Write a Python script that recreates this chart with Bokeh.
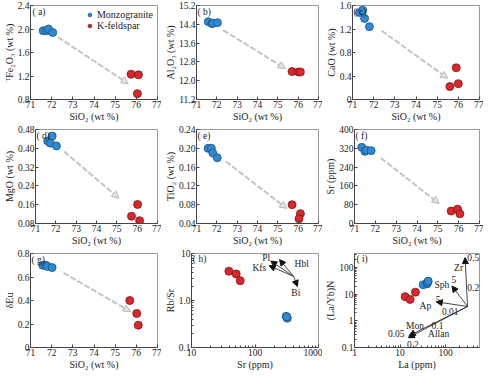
from bokeh.plotting import figure
from bokeh.layouts import column, row
from bokeh.models import (Arrow, NormalHead, Label, Legend, LegendItem,
                          ColumnDataSource, FixedTicker, CustomJSTickFormatter, Range1d)
from bokeh.embed import file_html
from bokeh.resources import INLINE

FONT = "Liberation Serif"
BLUE, BLUE_EDGE = "#2e8bd3", "#1d4f80"
RED, RED_EDGE = "#d9272c", "#7a1416"
GREY = "#c4c4c4"

# ---------------- data ----------------
sio2_ticks = [71, 72, 73, 74, 75, 76, 77]
sio2_labels = ["71", "72", "73", "74", "75", "76", "77"]

a_mz_x = [71.6, 71.75, 71.85, 72.05]
a_mz_y = [1.97, 1.97, 2.00, 1.94]
a_kf_x = [75.75, 76.1, 76.05]
a_kf_y = [1.23, 1.22, 0.90]
a_trend = [72.3, 1.86, 75.62, 1.07]
a_ticks = [0.8, 1.2, 1.6, 2.0, 2.4]
a_labels = ["0.8", "1.2", "1.6", "2.0", "2.4"]

b_mz_x = [71.58, 71.76, 71.82, 72.03]
b_mz_y = [14.51, 14.43, 14.45, 14.47]
b_kf_x = [75.7, 76.02, 76.11]
b_kf_y = [12.39, 12.37, 12.37]
b_trend = [72.31, 14.15, 75.37, 12.52]
b_ticks = [11.2, 12.0, 12.8, 13.6, 14.4, 15.2]
b_labels = ["11.2", "12.0", "12.8", "13.6", "14.4", "15.2"]

c_mz_x = [71.33, 71.48, 71.57, 71.80]
c_mz_y = [1.48, 1.52, 1.38, 1.24]
c_kf_x = [75.6, 75.9, 76.0]
c_kf_y = [0.22, 0.54, 0.27]
c_trend = [72.38, 1.17, 75.5, 0.36]
c_ticks = [0, 0.4, 0.8, 1.2, 1.6]
c_labels = ["0", "0.4", "0.8", "1.2", "1.6"]

d_mz_x = [71.6, 71.82, 71.73, 72.03]
d_mz_y = [0.431, 0.452, 0.422, 0.41]
d_kf_x = [75.72, 76.02, 76.12]
d_kf_y = [0.111, 0.161, 0.092]
d_trend = [72.41, 0.386, 75.1, 0.188]
d_ticks = [0.08, 0.16, 0.24, 0.32, 0.40, 0.48]
d_labels = ["0.08", "0.16", "0.24", "0.32", "0.40", "0.48"]

e_mz_x = [71.57, 71.73, 71.8, 72.02]
e_mz_y = [0.200, 0.200, 0.190, 0.180]
e_kf_x = [75.7, 76.11, 76.04]
e_kf_y = [0.080, 0.061, 0.050]
e_trend = [72.45, 0.172, 75.44, 0.072]
e_ticks = [0.04, 0.08, 0.12, 0.16, 0.20, 0.24]
e_labels = ["0.04", "0.08", "0.12", "0.16", "0.20", "0.24"]

f_mz_x = [71.35, 71.5, 71.58, 71.8]
f_mz_y = [324, 307, 312, 310]
f_kf_x = [75.64, 75.95, 76.06]
f_kf_y = [53, 61, 41]
f_trend = [72.26, 279, 75.06, 85]
f_ticks = [0, 80, 160, 240, 320, 400]
f_labels = ["0", "80", "160", "240", "320", "400"]

g_mz_x = [71.58, 71.73, 71.8, 72.02]
g_mz_y = [0.70, 0.70, 0.69, 0.68]
g_kf_x = [75.69, 76.02, 76.09]
g_kf_y = [0.40, 0.29, 0.19]
g_trend = [72.56, 0.636, 75.72, 0.306]
g_ticks = [0, 0.2, 0.4, 0.6, 0.8]
g_labels = ["0", "0.2", "0.4", "0.6", "0.8"]

h_mz_sr = [310, 318, 322, 315]
h_mz_rbsr = [0.46, 0.44, 0.42, 0.45]
h_kf_sr = [38.8, 50.5, 58.5]
h_kf_rbsr = [4.2, 3.67, 2.64]
h_x_ticks = [10, 100, 1000]
h_x_labels = ["10", "100", "1000"]
h_y_ticks = [0.1, 1, 10]
h_y_labels = ["0.1", "1.0", "10"]
h_vec_names = ["Pl", "Hbl", "Kfs", "Bi"]
h_vec_x0 = [406, 406, 406, 406]
h_vec_y0 = [3.26, 3.26, 3.26, 3.26]
h_vec_x1 = [177, 243, 167, 466]
h_vec_y1 = [6.9, 7.4, 5.5, 1.99]

i_mz_la = [32, 38.8, 40, 41.3]
i_mz_layb = [22.7, 24.5, 27.4, 31.2]
i_kf_la = [12.9, 16.6, 21.7]
i_kf_layb = [8.1, 6.4, 12.0]
i_x_ticks = [1, 10, 100, 1000]
i_x_labels = ["1", "10", "100", "1000"]
i_y_ticks = [0.1, 1, 10, 100]
i_y_labels = ["0.1", "1", "10", "100"]
i_vec_names = ["Zr", "Sph", "Ap", "Mon", "Allan"]
i_vec_x0 = [301, 301, 301, 301, 301]
i_vec_y0 = [3.47, 3.47, 3.47, 3.47, 3.47]
i_vec_x1 = [266, 137, 62, 15.8, 15.1]
i_vec_y1 = [239, 20.4, 5.2, 0.28, 0.233]


def log_minor(lo_exp, hi_exp):
    return [m * 10 ** e for e in range(lo_exp, hi_exp) for m in range(2, 10)]


def make(xr, yr, xlabel, ylabel, xticks, xlabels, yticks, ylabels,
         xlog=False, ylog=False, xminor=None, yminor=None):
    p = figure(width=161, height=124, x_range=Range1d(*xr), y_range=Range1d(*yr),
               x_axis_type="log" if xlog else "linear",
               y_axis_type="log" if ylog else "linear",
               output_backend="svg", toolbar_location=None,
               min_border_left=28, min_border_right=4,
               min_border_top=5, min_border_bottom=22)
    p.xgrid.visible = False
    p.ygrid.visible = False
    p.outline_line_color = "#9a9a9a"
    p.background_fill_color = "white"
    p.border_fill_color = "white"
    for ax, ticks, labels, minor, title in ((p.xaxis[0], xticks, xlabels, xminor, xlabel),
                                            (p.yaxis[0], yticks, ylabels, yminor, ylabel)):
        ax.ticker = FixedTicker(ticks=ticks, minor_ticks=minor or [])
        ax.formatter = CustomJSTickFormatter(
            args=dict(t=ticks, l=labels),
            code="const i = t.findIndex(v => Math.abs(v - tick) <= 1e-9 * Math.max(1, Math.abs(v)));"
                 "return i >= 0 ? l[i] : '';")
        ax.axis_label = title
        ax.axis_label_text_font = FONT
        ax.axis_label_text_font_size = "10px"
        ax.axis_label_text_font_style = "normal"
        ax.axis_label_text_color = "#222222"
        ax.major_label_text_font = FONT
        ax.major_label_text_font_size = "9.5px"
        ax.major_label_text_color = "#222222"
        ax.major_tick_in = 3
        ax.major_tick_out = 0
        ax.minor_tick_in = 2
        ax.minor_tick_out = 0
        ax.axis_line_color = "#444444"
        ax.major_tick_line_color = "#444444"
        ax.minor_tick_line_color = "#444444"
        ax.major_label_standoff = 1
        ax.axis_label_standoff = 0
    return p


def points(p, mx, my, kx, ky):
    r1 = p.scatter(mx, my, size=8, fill_color=BLUE, line_color=BLUE_EDGE, line_width=0.8)
    r2 = p.scatter(kx, ky, size=8, fill_color=RED, line_color=RED_EDGE, line_width=0.8)
    return r1, r2


def trend(p, t):
    p.add_layout(Arrow(x_start=t[0], y_start=t[1], x_end=t[2], y_end=t[3],
                       line_color=GREY, line_width=2, line_dash="6 2",
                       end=NormalHead(size=7, fill_color="#e4e4e4", line_color="#b5b5b5",
                                      line_width=1)))


def tag(p, x, y, text, align="left", baseline="top", size="9.5px"):
    p.add_layout(Label(x=x, y=y, text=text, text_font=FONT, text_font_size=size,
                       text_align=align, text_baseline=baseline, text_color="#222222"))


SIO2 = "SiO₂ (wt %)"

# (a)
pa = make((71, 77), (0.8, 2.4), SIO2, "ᵀFe₂O₃ (wt %)", sio2_ticks, sio2_labels, a_ticks, a_labels)
trend(pa, a_trend)
ra1, ra2 = points(pa, a_mz_x, a_mz_y, a_kf_x, a_kf_y)
tag(pa, 71.1, 2.37, "( a)")
leg = Legend(items=[LegendItem(label="Monzogranite", renderers=[ra1]),
                    LegendItem(label="K-feldspar", renderers=[ra2])],
             location="top_right", label_text_font=FONT, label_text_font_size="10px",
             label_text_color="#222222", glyph_width=9, glyph_height=9, label_height=9,
             label_standoff=3, spacing=0, padding=1, margin=3,
             border_line_alpha=0, background_fill_alpha=0)
pa.add_layout(leg)

# (b)
pb = make((71, 77), (11.2, 15.2), SIO2, "Al₂O₃ (wt %)", sio2_ticks, sio2_labels, b_ticks, b_labels)
trend(pb, b_trend)
points(pb, b_mz_x, b_mz_y, b_kf_x, b_kf_y)
tag(pb, 71.05, 15.15, "( b)")

# (c)
pc = make((71, 77), (0, 1.6), SIO2, "CaO (wt %)", sio2_ticks, sio2_labels, c_ticks, c_labels)
trend(pc, c_trend)
tag(pc, 71.05, 1.57, "( c)")
points(pc, c_mz_x, c_mz_y, c_kf_x, c_kf_y)

# (d)
pd_ = make((71, 77), (0.08, 0.48), SIO2, "MgO (wt %)", sio2_ticks, sio2_labels, d_ticks, d_labels)
trend(pd_, d_trend)
tag(pd_, 71.05, 0.475, "( d)")
points(pd_, d_mz_x, d_mz_y, d_kf_x, d_kf_y)

# (e)
pe = make((71, 77), (0.04, 0.24), SIO2, "TiO₂ (wt %)", sio2_ticks, sio2_labels, e_ticks, e_labels)
trend(pe, e_trend)
tag(pe, 71.05, 0.237, "( e)")
points(pe, e_mz_x, e_mz_y, e_kf_x, e_kf_y)

# (f)
pf = make((71, 77), (0, 400), SIO2, "Sr (ppm)", sio2_ticks, sio2_labels, f_ticks, f_labels)
trend(pf, f_trend)
tag(pf, 71.05, 393, "( f)")
points(pf, f_mz_x, f_mz_y, f_kf_x, f_kf_y)

# (g)
pg = make((71, 77), (0, 0.8), SIO2, "δEu", sio2_ticks, sio2_labels, g_ticks, g_labels)
trend(pg, g_trend)
tag(pg, 71.05, 0.785, "( g)")
points(pg, g_mz_x, g_mz_y, g_kf_x, g_kf_y)

# (h)
ph = make((10, 1000), (0.1, 10), "Sr (ppm)", "Rb/Sr", h_x_ticks, h_x_labels, h_y_ticks, h_y_labels,
          xlog=True, ylog=True, xminor=log_minor(1, 3), yminor=log_minor(-1, 1))
tag(ph, 10.5, 9.6, "( h)")
points(ph, h_mz_sr, h_mz_rbsr, h_kf_sr, h_kf_rbsr)
ph.add_layout(Arrow(source=ColumnDataSource(dict(x0=h_vec_x0, y0=h_vec_y0, x1=h_vec_x1, y1=h_vec_y1)),
                    x_start="x0", y_start="y0", x_end="x1", y_end="y1",
                    line_color="#333333", line_width=0.9,
                    end=NormalHead(size=6, fill_color="#111111", line_color="#111111")))
tag(ph, 150, 8.0, "Pl", align="center", baseline="middle")
tag(ph, 420, 5.9, "Hbl", align="left", baseline="middle")
tag(ph, 150, 4.96, "Kfs", align="right", baseline="middle")
tag(ph, 440, 1.45, "Bi", align="center", baseline="middle")

# (i)
pi = make((1, 550), (0.1, 340), "La (ppm)", "(La/Yb)N", i_x_ticks, i_x_labels, i_y_ticks, i_y_labels,
          xlog=True, ylog=True, xminor=log_minor(0, 3), yminor=log_minor(-1, 3))
tag(pi, 1.1, 320, "( i)")
points(pi, i_mz_la, i_mz_layb, i_kf_la, i_kf_layb)
pi.add_layout(Arrow(source=ColumnDataSource(dict(x0=i_vec_x0, y0=i_vec_y0, x1=i_vec_x1, y1=i_vec_y1)),
                    x_start="x0", y_start="y0", x_end="x1", y_end="y1",
                    line_color="#333333", line_width=0.9,
                    end=NormalHead(size=6, fill_color="#111111", line_color="#111111")))
tag(pi, 240, 100, "Zr", align="right", baseline="middle")
tag(pi, 540, 250, "0.5", align="right", baseline="middle")
tag(pi, 120, 22, "Sph", align="right", baseline="middle")
tag(pi, 150, 36, "5", align="center", baseline="middle")
tag(pi, 540, 18.4, "0.2", align="right", baseline="middle")
tag(pi, 48, 3.47, "Ap", align="right", baseline="middle")
tag(pi, 68, 6.4, "5", align="center", baseline="middle")
tag(pi, 126, 2.33, "0.01", align="center", baseline="middle")
tag(pi, 21.3, 0.62, "Mon", align="center", baseline="middle")
tag(pi, 66, 0.68, "0.1", align="center", baseline="middle")
tag(pi, 70, 0.33, "Allan", align="center", baseline="middle")
tag(pi, 12.5, 0.34, "0.05", align="right", baseline="middle")
tag(pi, 19.1, 0.13, "0.2", align="center", baseline="middle")

layout = column(row(pa, pb, pc), row(pd_, pe, pf), row(pg, ph, pi))
open("out.html", "w").write(file_html(layout, INLINE))
